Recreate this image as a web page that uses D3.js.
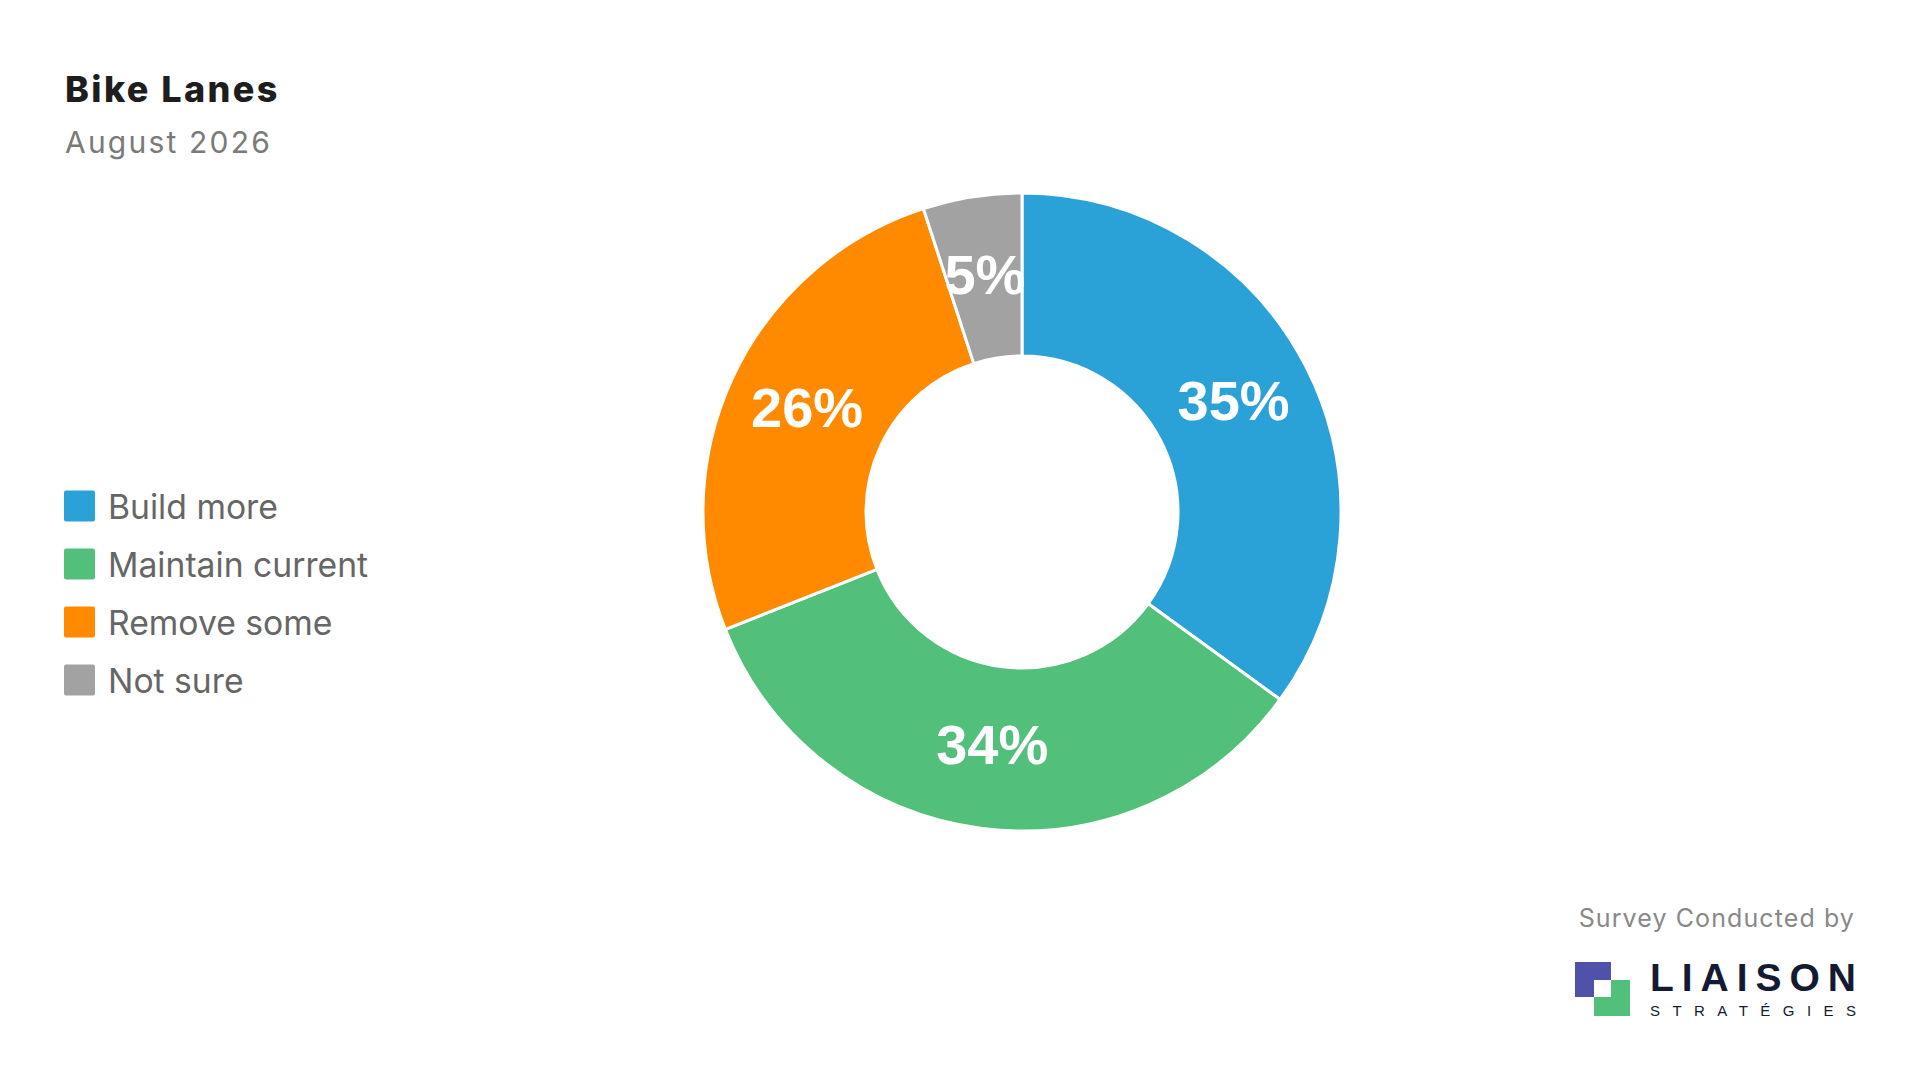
<!DOCTYPE html>
<html>
<head>
<meta charset="utf-8">
<script src="https://cdn.jsdelivr.net/npm/d3@7"></script>
<style>
  html, body { margin: 0; padding: 0; background: #fff; }
  svg { display: block; }
</style>
</head>
<body>
<svg id="chart" width="1920" height="1080"></svg>
<script>
// chart data
const title = "Bike Lanes";
const subtitle = "August 2026";
const categories = ["Build more", "Maintain current", "Remove some", "Not sure"];
const values = [35, 34, 26, 5];
const colors = ["#2ba2d7", "#52bf7a", "#ff8a00", "#a2a2a2"];

const svg = d3.select("#chart");
const W = 1920, H = 1080;

svg.append("rect").attr("width", W).attr("height", H).attr("fill", "#fff");

// title block
svg.append("text")
    .attr("x", 65).attr("y", 102)
    .style("font-family", "Inter, 'Open Sans', sans-serif")
    .style("font-weight", 800)
    .style("font-size", "36px")
    .style("letter-spacing", "2.4px")
    .attr("fill", "#1e1e1e")
    .text(title);

svg.append("text")
    .attr("x", 65).attr("y", 153)
    .style("font-family", "Inter, 'Open Sans', sans-serif")
    .style("font-size", "30px")
    .style("letter-spacing", "2.2px")
    .attr("fill", "#7a7a7a")
    .text(subtitle);

// legend
const legendY = d3.scalePoint()
    .domain(categories)
    .range([506, 680]);

const legend = svg.append("g").attr("class", "legend");
const items = legend.selectAll(".item")
    .data(categories)
    .enter().append("g")
    .attr("class", "item")
    .attr("transform", d => `translate(64,${legendY(d)})`);

items.append("rect")
    .attr("x", 0).attr("y", -15.5)
    .attr("width", 31).attr("height", 31)
    .attr("rx", 2)
    .attr("fill", (d, i) => colors[i]);

items.append("text")
    .attr("x", 44).attr("y", 12.5)
    .style("font-family", "Inter, 'Open Sans', sans-serif")
    .style("font-size", "33.7px")
    .attr("fill", "#666")
    .text(d => d);

// donut
const cx = 1022, cy = 512;
const outerR = 319, innerR = 156;

const pie = d3.pie().sort(null).value(d => d)(values);
const arc = d3.arc().innerRadius(innerR).outerRadius(outerR);

const g = svg.append("g").attr("transform", `translate(${cx},${cy})`);

g.selectAll("path.slice")
    .data(pie)
    .enter().append("path")
    .attr("class", "slice")
    .attr("d", arc)
    .attr("fill", (d, i) => colors[i])
    .attr("stroke", "#fff")
    .attr("stroke-width", 3);

g.selectAll("text.pct")
    .data(pie)
    .enter().append("text")
    .attr("class", "pct")
    .attr("transform", d => `translate(${arc.centroid(d)})`)
    .attr("text-anchor", "middle")
    .attr("dy", "0.29em")
    .style("font-family", "'Liberation Sans', Arial, sans-serif")
    .style("font-weight", 700)
    .style("font-size", "56px")
    .attr("fill", "#fff")
    .text(d => d.data + "%");

// footer / logo
svg.append("text")
    .attr("x", 1855).attr("y", 927)
    .attr("text-anchor", "end")
    .style("font-family", "Inter, 'Open Sans', sans-serif")
    .style("font-size", "25px")
    .style("letter-spacing", "1.1px")
    .attr("fill", "#888")
    .text("Survey Conducted by");

const logo = svg.append("g");
logo.append("rect").attr("x", 1575).attr("y", 962).attr("width", 36).attr("height", 35).attr("fill", "#5052a9");
logo.append("rect").attr("x", 1594).attr("y", 980).attr("width", 36).attr("height", 36).attr("fill", "#52bf7a");
logo.append("rect").attr("x", 1594).attr("y", 980).attr("width", 17).attr("height", 17).attr("fill", "#fff");

logo.append("text")
    .attr("x", 1650).attr("y", 991)
    .attr("textLength", 206)
    .attr("lengthAdjust", "spacing")
    .style("font-family", "'Liberation Sans', Arial, sans-serif")
    .style("font-weight", 700)
    .style("font-size", "39px")
    .attr("fill", "#141a33")
    .text("LIAISON");

logo.append("text")
    .attr("x", 1650).attr("y", 1016)
    .attr("textLength", 206)
    .attr("lengthAdjust", "spacing")
    .style("font-family", "'Liberation Sans', Arial, sans-serif")
    .style("font-size", "15px")
    .attr("fill", "#141a33")
    .text("STRATÉGIES");
</script>
</body>
</html>
